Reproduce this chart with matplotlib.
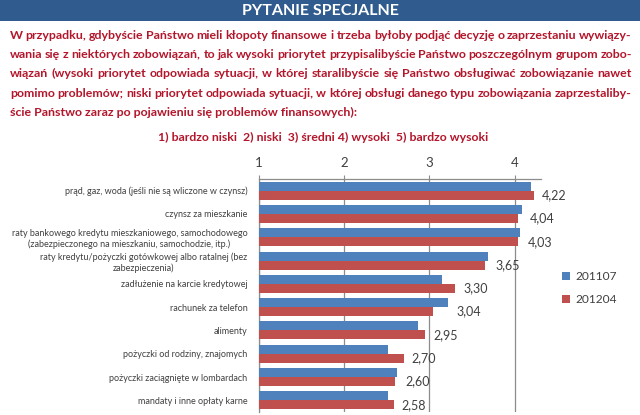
import matplotlib
matplotlib.use("Agg")
import matplotlib.pyplot as plt
from matplotlib.patches import Rectangle

plt.rcParams['font.family'] = ['Lato', 'DejaVu Sans']

categories = [
    "prąd, gaz, woda (jeśli nie są wliczone w czynsz)",
    "czynsz za mieszkanie",
    "raty bankowego kredytu mieszkaniowego, samochodowego\n(zabezpieczonego na mieszkaniu, samochodzie, itp.)",
    "raty kredytu/pożyczki gotówkowej albo ratalnej (bez\nzabezpieczenia)",
    "zadłużenie na karcie kredytowej",
    "rachunek za telefon",
    "alimenty",
    "pożyczki od rodziny, znajomych",
    "pożyczki zaciągnięte w lombardach",
    "mandaty i inne opłaty karne",
]
values_201107 = [4.19, 4.08, 4.06, 3.68, 3.15, 3.22, 2.86, 2.51, 2.62, 2.51]
values_201204 = [4.22, 4.04, 4.03, 3.65, 3.30, 3.04, 2.95, 2.70, 2.60, 2.58]
series_names = ["201107", "201204"]
tick_values = [1, 2, 3, 4]

title = "PYTANIE SPECJALNE"
question_lines = [
    "W przypadku, gdybyście Państwo mieli kłopoty finansowe  i trzeba byłoby podjąć decyzję o zaprzestaniu wywiązy-",
    "wania się z niektórych zobowiązań, to jak wysoki priorytet przypisalibyście Państwo poszczególnym grupom zobo-",
    "wiązań (wysoki priorytet odpowiada sytuacji, w której staralibyście się Państwo obsługiwać zobowiązanie nawet",
    "pomimo problemów; niski priorytet odpowiada sytuacji, w której obsługi danego typu zobowiązania zaprzestaliby-",
    "ście Państwo zaraz po pojawieniu się problemów finansowych):",
]
scale_text = "1) bardzo niski  2) niski  3) średni 4) wysoki  5) bardzo wysoki"

BLUE = "#4F81BD"
RED = "#C0504D"
DARKRED = "#B3162B"
HEADER = "#2F5B8E"
GREY_TXT = "#404040"
GRID = "#8C8C8C"

W, H = 640, 415
fig = plt.figure(figsize=(W / 100, H / 100), dpi=100)
fig.patch.set_facecolor("white")

# header band
fig.patches.append(Rectangle((0, 1 - 21 / H), 1, 21 / H, transform=fig.transFigure,
                             facecolor=HEADER, edgecolor="none", zorder=0))
fig.text(0.5, 1 - 11 / H, title, color="white", fontsize=11.5, fontweight="bold",
         ha="center", va="center")

# justified question text
fig.canvas.draw()
renderer = fig.canvas.get_renderer()
q_kw = dict(fontsize=8.95, fontweight="bold", color=DARKRED, va="baseline")


def width_px(s, **kw):
    t = fig.text(0, 0, s, **kw)
    w = t.get_window_extent(renderer).width
    t.remove()
    return w


x_left, x_right = 10, 632
baseline0 = 39
line_h = 19.2
for i, line in enumerate(question_lines):
    words = line.split()
    y = 1 - (baseline0 + i * line_h) / H
    last = (i == len(question_lines) - 1)
    if last:
        fig.text(x_left / W, y, line, ha="left", **q_kw)
        continue
    widths = [width_px(w_, **q_kw) for w_ in words]
    gap = (x_right - x_left - sum(widths)) / (len(words) - 1)
    x = x_left
    for w_, wd in zip(words, widths):
        fig.text(x / W, y, w_, ha="left", **q_kw)
        x += wd + gap

fig.text(323 / W, 1 - 137 / H, scale_text, fontsize=8.8, fontweight="bold",
         color=DARKRED, ha="center", va="center")

# chart axes
ax_left, ax_right = 258.5, 540.7
ax_top, ax_bot = 179, 412
ax = fig.add_axes([ax_left / W, 1 - ax_bot / H, (ax_right - ax_left) / W, (ax_bot - ax_top) / H])
n = len(categories)
ys = list(range(n))
h = 0.385
ax.barh([y - h / 2 for y in ys], values_201107, height=h, left=0, color=BLUE, zorder=3,
        label=series_names[0])
ax.barh([y + h / 2 for y in ys], values_201204, height=h, left=0, color=RED, zorder=3,
        label=series_names[1])
ax.set_xlim(1, 1 + (ax_right - ax_left) / 85.5)
ax.set_ylim(n - 0.5, -0.5)

for y, b, r in zip(ys, values_201107, values_201204):
    ax.annotate(f"{r:.2f}".replace(".", ","), xy=(max(b, r), y + h / 2), xytext=(8, 0),
                textcoords="offset pixels", ha="left", va="center", fontsize=9,
                color=GREY_TXT, zorder=4)

ax.xaxis.tick_top()
ax.set_xticks(tick_values)
ax.set_xticklabels([str(t) for t in tick_values], fontsize=9.5, color=GREY_TXT)
ax.tick_params(axis="x", length=3, color=GRID, pad=4)
ax.set_yticks(ys)
ax.set_yticklabels(categories, fontsize=6.5, color=GREY_TXT, multialignment="center")
ax.tick_params(axis="y", length=0, pad=8)
ax.grid(axis="x", color=GRID, linewidth=0.9, zorder=0)
for s in ["right", "bottom"]:
    ax.spines[s].set_visible(False)
for s in ["top", "left"]:
    ax.spines[s].set_color(GRID)
    ax.spines[s].set_linewidth(0.9)
ax.set_facecolor("none")

leg = fig.legend(loc="upper left", bbox_to_anchor=(562 / W, 1 - 271 / H), frameon=False,
                 fontsize=8.6, handlelength=0.7, handleheight=0.7, handletextpad=0.4,
                 labelspacing=1.0, borderaxespad=0, borderpad=0)
for t in leg.get_texts():
    t.set_color(GREY_TXT)

fig.savefig("out.png", dpi=100)
